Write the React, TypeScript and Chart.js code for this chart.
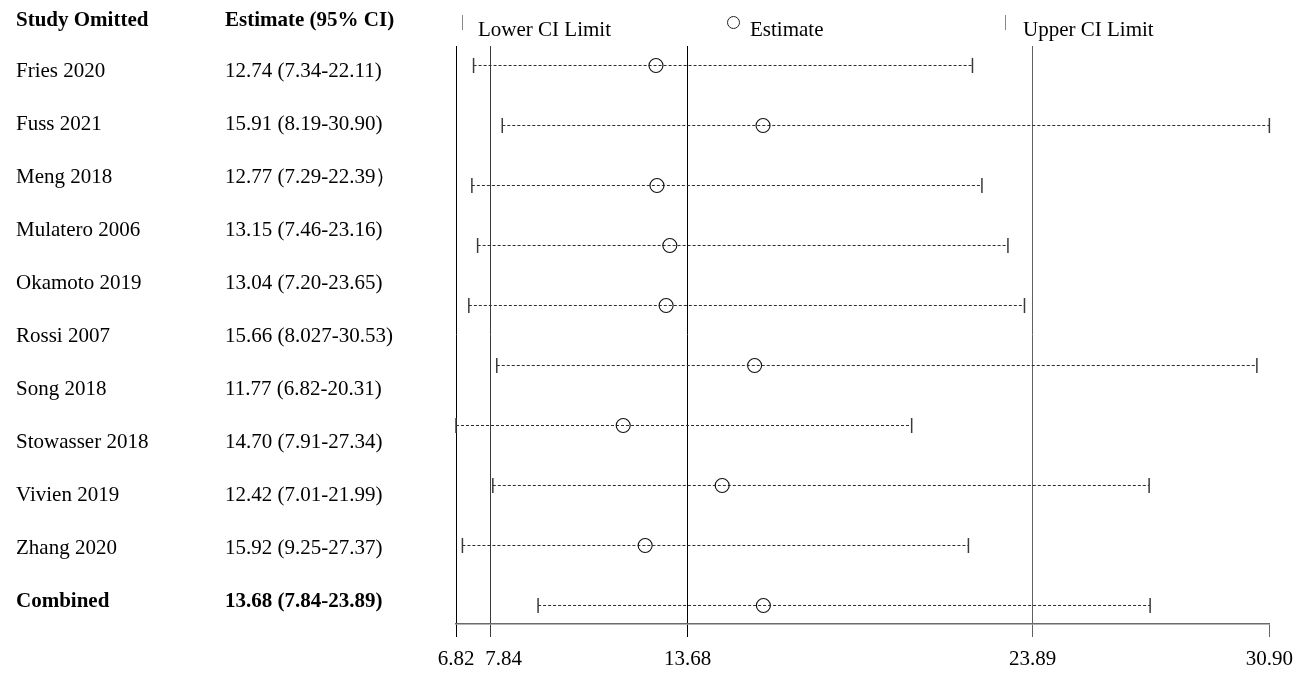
import React, { useEffect, useRef } from "react";
import { Chart, registerables } from "chart.js";

Chart.register(...registerables);

const STUDIES = [
  "Fries 2020",
  "Fuss 2021",
  "Meng 2018",
  "Mulatero 2006",
  "Okamoto 2019",
  "Rossi 2007",
  "Song 2018",
  "Stowasser 2018",
  "Vivien 2019",
  "Zhang 2020",
];
const CI_TEXT = [
  "12.74 (7.34-22.11)",
  "15.91 (8.19-30.90)",
  "12.77 (7.29-22.39）",
  "13.15 (7.46-23.16)",
  "13.04 (7.20-23.65)",
  "15.66 (8.027-30.53)",
  "11.77 (6.82-20.31)",
  "14.70 (7.91-27.34)",
  "12.42 (7.01-21.99)",
  "15.92 (9.25-27.37)",
];
const ESTIMATES = [12.74, 15.91, 12.77, 13.15, 13.04, 15.66, 11.77, 14.7, 12.42, 15.92];
const LOWER = [7.34, 8.19, 7.29, 7.46, 7.2, 8.027, 6.82, 7.91, 7.01, 9.25];
const UPPER = [22.11, 30.9, 22.39, 23.16, 23.65, 30.53, 20.31, 27.34, 21.99, 27.37];

const COMBINED_LABEL = "Combined";
const COMBINED_TEXT = "13.68 (7.84-23.89)";

const AXIS_TICKS = [6.82, 7.84, 13.68, 23.89, 30.9];
const TICK_LABELS = ["6.82", "\u00a0\u00a0\u00a0\u00a0\u00a07.84", "13.68", "23.89", "30.90"];
const GRID_COLORS = ["#000000", "#3a3a3a", "#000000", "#606060", "rgba(0,0,0,0)"];

const HEADERS = ["Study Omitted", "Estimate (95% CI)"];
const LEGEND_LABELS = ["Lower CI Limit", "Estimate", "Upper CI Limit"];

const FONT = '"Liberation Serif", "Times New Roman", Times, serif';

export default function App() {
  const canvasRef = useRef<HTMLCanvasElement | null>(null);

  useEffect(() => {
    const canvas = canvasRef.current;
    if (!canvas) return;

    const estDataset: any = {
      type: "scatter",
      label: "Estimate",
      data: ESTIMATES.map((v, i) => ({ x: v, y: i })),
      pointStyle: "circle",
      pointRadius: 7,
      pointHoverRadius: 7,
      pointBorderColor: "#111111",
      pointBackgroundColor: "rgba(0,0,0,0)",
      pointBorderWidth: 1.1,
      showLine: false,
      clip: false,
    };

    const ciDatasets: any[] = ESTIMATES.map((_, i) => ({
      type: "line",
      label: STUDIES[i],
      data: [
        { x: LOWER[i], y: i },
        { x: UPPER[i], y: i },
      ],
      borderColor: "#2e2e2e",
      borderWidth: 1,
      borderDash: [3, 2],
      pointStyle: "line",
      rotation: 90,
      pointRadius: 7.5,
      pointHoverRadius: 7.5,
      pointBorderColor: "#3a3a3a",
      pointBorderWidth: 1.5,
      clip: false,
    }));

    const chart = new Chart(canvas, {
      type: "line",
      data: { datasets: [estDataset, ...ciDatasets] },
      options: {
        animation: false,
        responsive: false,
        maintainAspectRatio: false,
        events: [],
        layout: { padding: { left: 456, right: 33, top: 46, bottom: 0 } },
        plugins: {
          legend: { display: false },
          tooltip: { enabled: false },
          title: { display: false },
        },
        scales: {
          x: {
            type: "linear",
            min: AXIS_TICKS[0],
            max: AXIS_TICKS[AXIS_TICKS.length - 1],
            afterBuildTicks: (scale: any) => {
              scale.ticks = AXIS_TICKS.map((v) => ({ value: v }));
            },
            afterFit: (scale: any) => {
              scale.height = 49;
            },
            ticks: {
              autoSkip: false,
              maxRotation: 0,
              minRotation: 0,
              padding: 10,
              color: "#000000",
              font: { family: FONT, size: 21 },
              callback: (_v: any, idx: number) => TICK_LABELS[idx],
            },
            grid: {
              drawOnChartArea: true,
              drawTicks: true,
              tickLength: 13,
              lineWidth: 1,
              color: (ctx: any) => GRID_COLORS[ctx.index] ?? "#000",
              tickColor: (ctx: any) => (ctx.index === 4 ? "#666666" : GRID_COLORS[ctx.index]),
            },
            border: { display: true, color: "#6a6a6a", width: 1.5 },
          },
          y: {
            type: "linear",
            display: false,
            reverse: true,
            min: -0.325,
            max: 9.3083,
          },
        },
      } as any,
    });

    return () => {
      chart.destroy();
    };
  }, []);

  const rowTop = (i: number) => 70 + 52.95 * i - 12;
  const textBase: React.CSSProperties = {
    position: "absolute",
    fontFamily: FONT,
    fontSize: 21,
    lineHeight: "24px",
    whiteSpace: "nowrap",
    color: "#000",
  };

  return (
    <div style={{ position: "absolute", left: 0, top: 0, width: 1303, height: 673, background: "#fff", overflow: "hidden" }}>
      <canvas
        ref={canvasRef}
        width={1303}
        height={673}
        style={{ position: "absolute", left: 0, top: 0, width: 1303, height: 673, display: "block" }}
      />
      <div style={{ ...textBase, left: 16, top: 7, fontWeight: "bold" }}>{HEADERS[0]}</div>
      <div style={{ ...textBase, left: 225, top: 7, fontWeight: "bold" }}>{HEADERS[1]}</div>
      {STUDIES.map((s, i) => (
        <React.Fragment key={s}>
          <div style={{ ...textBase, left: 16, top: rowTop(i) }}>{s}</div>
          <div style={{ ...textBase, left: 225, top: rowTop(i) }}>{CI_TEXT[i]}</div>
        </React.Fragment>
      ))}
      <div style={{ ...textBase, left: 16, top: rowTop(10), fontWeight: "bold" }}>{COMBINED_LABEL}</div>
      <div style={{ ...textBase, left: 225, top: rowTop(10), fontWeight: "bold" }}>{COMBINED_TEXT}</div>

      {/* legend */}
      <div style={{ position: "absolute", left: 462, top: 15, width: 1, height: 15, background: "#888" }} />
      <div style={{ ...textBase, left: 478, top: 17 }}>{LEGEND_LABELS[0]}</div>
      <div
        style={{
          position: "absolute",
          left: 727,
          top: 16,
          width: 13,
          height: 13,
          border: "1px solid #222",
          borderRadius: "50%",
          boxSizing: "border-box",
        }}
      />
      <div style={{ ...textBase, left: 750, top: 17 }}>{LEGEND_LABELS[1]}</div>
      <div style={{ position: "absolute", left: 1005, top: 15, width: 1, height: 15, background: "#888" }} />
      <div style={{ ...textBase, left: 1023, top: 17 }}>{LEGEND_LABELS[2]}</div>
    </div>
  );
}
